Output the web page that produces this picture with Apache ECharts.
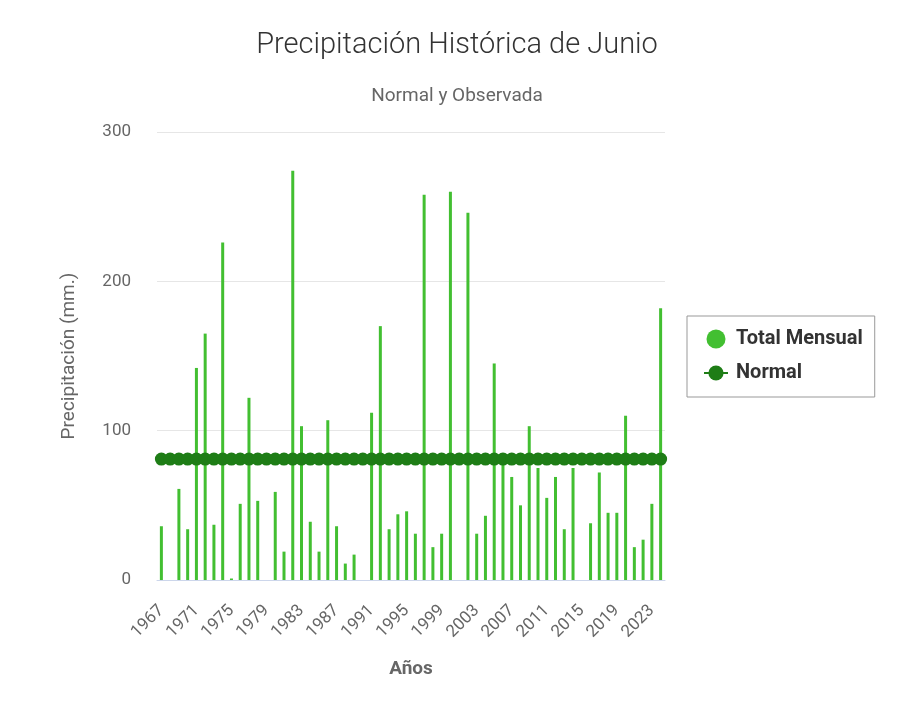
<!DOCTYPE html>
<html>
<head>
	<meta charset="utf-8">
	<title>Precipitación Histórica de Junio</title>
	<script src="https://cdn.jsdelivr.net/npm/echarts@6/dist/echarts.min.js"></script>
	<style type="text/css">
		html, body { margin: 0; padding: 0; background-color: #fff; }
		#chartBox { width: 914px; height: 711px; }
	</style>
</head>
<body>
<div id="chartBox"></div>

<script>
	// años 1967 - 2024
	var years = [];
	for (var y = 1967; y <= 2024; y++) { years.push(String(y)); }

	// precipitación total mensual (mm.)
	var totalMensual = [
		36, null, 61, 34, 142, 165, 37, 226, 1, 51,
		122, 53, null, 59, 19, 274, 103, 39, 19, 107,
		36, 11, 17, null, 112, 170, 34, 44, 46, 31,
		258, 22, 31, 260, null, 246, 31, 43, 145, 79,
		69, 50, 103, 75, 55, 69, 34, 75, null, 38,
		72, 45, 45, 110, 22, 27, 51, 182
	];

	// normal
	var normal = years.map(function () { return 81; });

	var yTicks = { min: 0, max: 300, interval: 100 };

	var chart = echarts.init(document.getElementById('chartBox'));
	var options = {
		animation: false,
		title: [{
			text: 'Precipitación Histórica de Junio',
			left: 'center',
			top: 26,
			textStyle: { fontFamily: 'Roboto', fontSize: 29, fontWeight: 300, color: '#333' }
		}, {
			text: 'Normal y Observada',
			left: 'center',
			top: 82,
			textStyle: { fontFamily: 'Roboto', fontSize: 19, fontWeight: 400, color: '#666' }
		}],
		legend: {
			orient: 'vertical',
			left: 687,
			top: 316,
			padding: [13, 12, 14, 16],
			borderColor: '#999',
			borderWidth: 1,
			itemGap: 14,
			itemWidth: 24,
			itemHeight: 19,
			textStyle: { fontFamily: 'Roboto', fontSize: 20, fontWeight: 'bold', color: '#333', padding: [0, 0, 0, 3] },
			data: [
				{ name: 'Total Mensual', icon: 'circle' },
				{ name: 'Normal' }
			]
		},
		grid: { left: 157, right: 249, top: 132, bottom: 131 },
		xAxis: {
			type: 'category',
			data: years,
			boundaryGap: true,
			name: 'Años',
			nameLocation: 'middle',
			nameGap: 80,
			nameTextStyle: { fontFamily: 'Roboto', fontSize: 19, fontWeight: 'bold', color: '#666' },
			axisLine: { lineStyle: { color: '#ccd6eb', width: 1 } },
			axisTick: { show: false },
			axisLabel: {
				interval: 3,
				rotate: 45,
				margin: 28,
				fontFamily: 'Roboto',
				fontSize: 17,
				color: '#666'
			}
		},
		yAxis: {
			type: 'value',
			min: yTicks.min,
			max: yTicks.max,
			interval: yTicks.interval,
			name: 'Precipitación (mm.)',
			nameLocation: 'middle',
			nameGap: 78,
			nameTextStyle: { fontFamily: 'Roboto', fontSize: 19, color: '#666' },
			axisLine: { show: false },
			axisTick: { show: false },
			axisLabel: { fontFamily: 'Roboto', fontSize: 17, color: '#666', margin: 26 },
			splitLine: { lineStyle: { color: '#e6e6e6', width: 1 } }
		},
		series: [{
			name: 'Total Mensual',
			type: 'bar',
			barWidth: 3,
			itemStyle: { color: '#42bf31' },
			data: totalMensual
		}, {
			name: 'Normal',
			type: 'line',
			symbol: 'circle',
			symbolSize: 13,
			showAllSymbol: true,
			lineStyle: { color: '#1e7d16', width: 3 },
			itemStyle: { color: '#1e7d16' },
			data: normal
		}]
	};
	chart.setOption(options);
</script>
</body>
</html>
